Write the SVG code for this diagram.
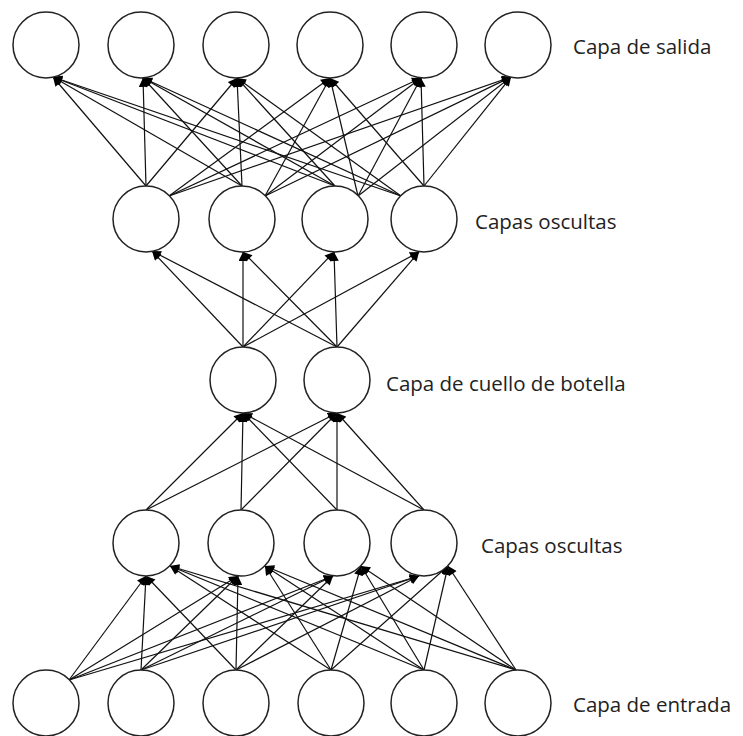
<svg xmlns="http://www.w3.org/2000/svg" width="743" height="736" viewBox="0 0 743 736">
<style>
.n{fill:#fff;stroke:#222;stroke-width:1.5}
.c line{stroke:#111;stroke-width:1.2;marker-end:url(#ah)}
.t{font-family:"Open Sans","Noto Sans",sans-serif;font-size:20.5px;fill:#222}
</style>
<defs>
<marker id="ah" viewBox="0 0 10 10" refX="10" refY="5" markerWidth="10" markerHeight="9" markerUnits="userSpaceOnUse" orient="auto">
<path d="M0,0 L10,5 L0,10 z" fill="#000"/>
</marker>
</defs>
<rect width="743" height="736" fill="#fff"/>
<g id="connectors" class="c">
<!-- hidden1 -> output -->
<line x1="146" y1="186" x2="53" y2="77"/>
<line x1="146" y1="186" x2="143" y2="78"/>
<line x1="146" y1="186" x2="237" y2="78"/>
<line x1="169" y1="196" x2="330" y2="78"/>
<line x1="169" y1="196" x2="421" y2="78"/>
<line x1="169" y1="196" x2="511" y2="77"/>
<line x1="242" y1="186" x2="53" y2="77"/>
<line x1="242" y1="186" x2="143" y2="78"/>
<line x1="242" y1="186" x2="237" y2="78"/>
<line x1="265" y1="196" x2="330" y2="78"/>
<line x1="265" y1="196" x2="421" y2="78"/>
<line x1="265" y1="196" x2="511" y2="77"/>
<line x1="335" y1="186" x2="53" y2="77"/>
<line x1="335" y1="186" x2="143" y2="78"/>
<line x1="335" y1="186" x2="237" y2="78"/>
<line x1="358" y1="196" x2="330" y2="78"/>
<line x1="358" y1="196" x2="421" y2="78"/>
<line x1="358" y1="196" x2="511" y2="77"/>
<line x1="401" y1="196" x2="53" y2="77"/>
<line x1="401" y1="196" x2="143" y2="78"/>
<line x1="401" y1="196" x2="237" y2="78"/>
<line x1="424" y1="186" x2="330" y2="78"/>
<line x1="424" y1="186" x2="421" y2="78"/>
<line x1="424" y1="186" x2="511" y2="77"/>
<!-- bottleneck -> hidden1 -->
<line x1="243" y1="347" x2="152" y2="251"/>
<line x1="243" y1="347" x2="243" y2="252"/>
<line x1="243" y1="347" x2="334" y2="252"/>
<line x1="243" y1="347" x2="419" y2="252"/>
<line x1="337" y1="347" x2="152" y2="251"/>
<line x1="337" y1="347" x2="243" y2="252"/>
<line x1="337" y1="347" x2="334" y2="252"/>
<line x1="337" y1="347" x2="419" y2="252"/>
<!-- hidden2 -> bottleneck -->
<line x1="146" y1="510" x2="243" y2="413"/>
<line x1="146" y1="510" x2="337" y2="413"/>
<line x1="241" y1="510" x2="243" y2="413"/>
<line x1="241" y1="510" x2="337" y2="413"/>
<line x1="337" y1="510" x2="243" y2="413"/>
<line x1="337" y1="510" x2="337" y2="413"/>
<line x1="424" y1="510" x2="243" y2="413"/>
<line x1="424" y1="510" x2="337" y2="413"/>
<!-- input -> hidden2 -->
<line x1="69" y1="680" x2="146" y2="576"/>
<line x1="141" y1="670" x2="146" y2="576"/>
<line x1="236" y1="670" x2="146" y2="576"/>
<line x1="331" y1="670" x2="170" y2="566"/>
<line x1="424" y1="670" x2="170" y2="566"/>
<line x1="516" y1="670" x2="170" y2="566"/>
<line x1="69" y1="680" x2="238" y2="576"/>
<line x1="141" y1="670" x2="238" y2="576"/>
<line x1="236" y1="670" x2="238" y2="576"/>
<line x1="331" y1="670" x2="265" y2="566"/>
<line x1="424" y1="670" x2="265" y2="566"/>
<line x1="516" y1="670" x2="265" y2="566"/>
<line x1="69" y1="680" x2="333" y2="576"/>
<line x1="141" y1="670" x2="333" y2="576"/>
<line x1="236" y1="670" x2="333" y2="576"/>
<line x1="331" y1="670" x2="361" y2="566"/>
<line x1="424" y1="670" x2="361" y2="566"/>
<line x1="516" y1="670" x2="361" y2="566"/>
<line x1="69" y1="680" x2="419" y2="576"/>
<line x1="141" y1="670" x2="419" y2="576"/>
<line x1="236" y1="670" x2="419" y2="576"/>
<line x1="331" y1="670" x2="448" y2="566"/>
<line x1="424" y1="670" x2="448" y2="566"/>
<line x1="516" y1="670" x2="448" y2="566"/>
</g>
<g id="out1"><circle class="n" cx="46" cy="45" r="33"/></g>
<g id="out2"><circle class="n" cx="141" cy="45" r="33"/></g>
<g id="out3"><circle class="n" cx="236" cy="45" r="33"/></g>
<g id="out4"><circle class="n" cx="330" cy="45" r="33"/></g>
<g id="out5"><circle class="n" cx="424" cy="45" r="33"/></g>
<g id="out6"><circle class="n" cx="518" cy="45" r="33"/></g>
<g id="h1a"><circle class="n" cx="146" cy="219" r="33"/></g>
<g id="h1b"><circle class="n" cx="242" cy="219" r="33"/></g>
<g id="h1c"><circle class="n" cx="335" cy="219" r="33"/></g>
<g id="h1d"><circle class="n" cx="424" cy="219" r="33"/></g>
<g id="b1"><circle class="n" cx="243" cy="380" r="33"/></g>
<g id="b2"><circle class="n" cx="337" cy="380" r="33"/></g>
<g id="h2a"><circle class="n" cx="146" cy="543" r="33"/></g>
<g id="h2b"><circle class="n" cx="241" cy="543" r="33"/></g>
<g id="h2c"><circle class="n" cx="337" cy="543" r="33"/></g>
<g id="h2d"><circle class="n" cx="424" cy="543" r="33"/></g>
<g id="in1"><circle class="n" cx="46" cy="703" r="33"/></g>
<g id="in2"><circle class="n" cx="141" cy="703" r="33"/></g>
<g id="in3"><circle class="n" cx="236" cy="703" r="33"/></g>
<g id="in4"><circle class="n" cx="331" cy="703" r="33"/></g>
<g id="in5"><circle class="n" cx="424" cy="703" r="33"/></g>
<g id="in6"><circle class="n" cx="518" cy="703" r="33"/></g>
<g id="labels">
<text class="t" x="573" y="54">Capa de salida</text>
<text class="t" x="475" y="229">Capas oscultas</text>
<text class="t" x="386" y="391">Capa de cuello de botella</text>
<text class="t" x="481" y="553">Capas oscultas</text>
<text class="t" x="573" y="712">Capa de entrada</text>
</g>
</svg>
